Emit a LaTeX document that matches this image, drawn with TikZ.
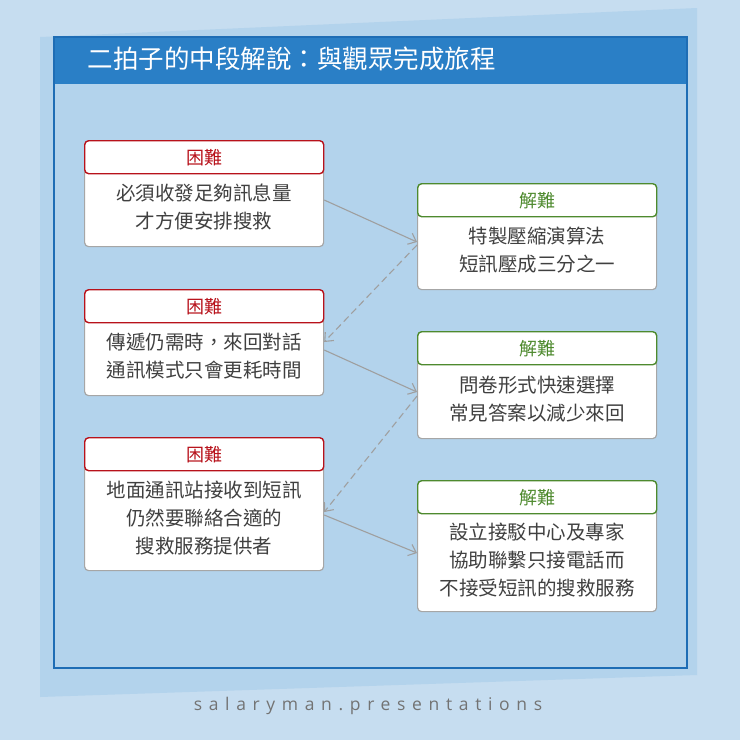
\documentclass[tikz,border=0pt]{standalone}
\usepackage{fontspec}
\setmainfont{Noto Sans CJK TC}
\newfontfamily\wmfont[LetterSpace=38]{Open Sans}
\usetikzlibrary{arrows.meta}
\definecolor{bgblue}{HTML}{C6DDF0}
\definecolor{paper}{HTML}{B3D3EC}
\definecolor{hdr}{HTML}{2A7FC6}
\definecolor{bord}{HTML}{1E6DB5}
\definecolor{redc}{HTML}{B8121B}
\definecolor{grnc}{HTML}{4E8A2E}
\definecolor{txt}{HTML}{404040}
\tikzset{
 hd/.style={draw=#1, line width=1.4pt, rounded corners=4pt, fill=white, minimum width=239pt, minimum height=33pt, text=#1, font=\fontsize{18}{20}\selectfont, inner sep=0},
 bd/.style={draw=gray!70, line width=1.2pt, rounded corners=4pt, fill=white, minimum width=239pt, text=txt, font=\fontsize{19.5}{28}\selectfont, align=center, inner sep=0},
 arr/.style={draw=gray!75, line width=1.1pt, -{Straight Barb[length=7pt,width=12pt]}},
 dar/.style={arr, dash pattern=on 7pt off 4pt}
}
\begin{document}
\begin{tikzpicture}[x=1pt,y=-1pt]
\fill[bgblue] (0,0) rectangle (740,740);
\fill[paper] (40,37) -- (697,8) -- (697,675) -- (40,697) -- cycle;
\fill[hdr] (53,36) rectangle (686,84);
\node[draw=bord, line width=1.5pt, minimum width=633pt, minimum height=631pt, inner sep=0, anchor=north west] (card) at (53,36) {};
\node[anchor=west, text=white, font=\fontsize{25.5}{28}\selectfont] (title) at (84,59) {二拍子的中段解說：與觀眾完成旅程};
% left
\node[bd, minimum height=79pt, anchor=north west] (lb1) at (84,167) {必須收發足夠訊息量\\才方便安排搜救};
\node[hd=redc, anchor=north west] (lh1) at (84,140) {困難};
\node[bd, minimum height=79pt, anchor=north west] (lb2) at (84,316) {傳遞仍需時，來回對話\\通訊模式只會更耗時間};
\node[hd=redc, anchor=north west] (lh2) at (84,289) {困難};
\node[bd, minimum height=106pt, anchor=north west] (lb3) at (84,464) {地面通訊站接收到短訊\\仍然要聯絡合適的\\搜救服務提供者};
\node[hd=redc, anchor=north west] (lh3) at (84,437) {困難};
% right
\node[bd, minimum height=79pt, anchor=north west] (rb1) at (417,210) {特製壓縮演算法\\短訊壓成三分之一};
\node[hd=grnc, anchor=north west] (rh1) at (417,183) {解難};
\node[bd, minimum height=80pt, anchor=north west] (rb2) at (417,358) {問卷形式快速選擇\\常見答案以減少來回};
\node[hd=grnc, anchor=north west] (rh2) at (417,331) {解難};
\node[bd, minimum height=104pt, anchor=north west] (rb3) at (417,507) {設立接駁中心及專家\\協助聯繫只接電話而\\不接受短訊的搜救服務};
\node[hd=grnc, anchor=north west] (rh3) at (417,480) {解難};
% arrows
\draw[arr] (lb1.east |- 0,200) -- (rb1.west |- 0,242);
\draw[dar] (rb1.west |- 0,245) -- (lb2.east |- 0,342);
\draw[arr] (lb2.east |- 0,350) -- (rb2.west |- 0,392);
\draw[dar] (rb2.west |- 0,396) -- (lb3.east |- 0,512);
\draw[arr] (lb3.east |- 0,515) -- (rb3.west |- 0,553);
\node[text=gray!90!black, font=\wmfont\fontsize{17.5}{22}\selectfont] (wm) at (368,706) {salaryman.presentations};
\end{tikzpicture}
\end{document}
